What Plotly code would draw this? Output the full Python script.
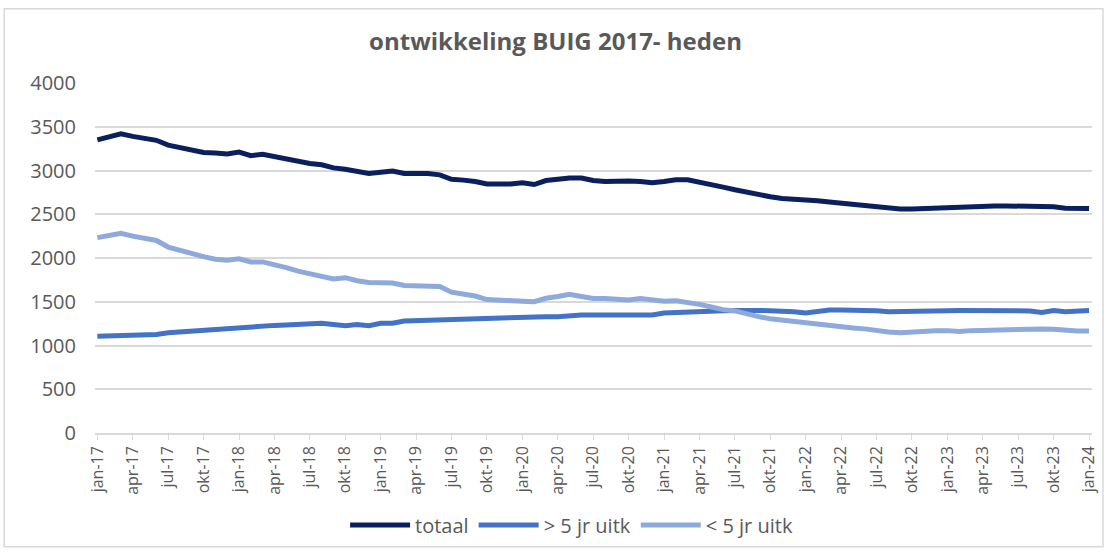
import plotly.graph_objs as go

# month labels jan-17 .. jan-24
months = ['jan', 'feb', 'mrt', 'apr', 'mei', 'jun', 'jul', 'aug', 'sep', 'okt', 'nov', 'dec']
periods = [f'{m}-{y}' for y in range(17, 24) for m in months] + ['jan-24']
tick_labels = periods[::3]

totaal = [3350, 3390, 3420, 3390, 3370, 3345, 3290, 3260, 3240, 3205, 3200, 3190,
          3210, 3170, 3185, 3160, 3135, 3100, 3080, 3065, 3030, 3015, 2995, 2965,
          2980, 2995, 2965, 2970, 2965, 2950, 2900, 2890, 2875, 2845, 2845, 2845,
          2860, 2840, 2885, 2905, 2915, 2915, 2885, 2875, 2880, 2880, 2875, 2860,
          2875, 2895, 2895, 2870, 2840, 2810, 2780, 2750, 2730, 2700, 2680, 2675,
          2670, 2655, 2640, 2625, 2615, 2600, 2580, 2565, 2560, 2560, 2565, 2580,
          2585, 2590, 2595, 2595, 2595, 2595, 2595, 2595, 2595, 2585, 2570, 2565,
          2565]

meer_5jr = [1105, 1108, 1115, 1115, 1118, 1125, 1145, 1155, 1160, 1175, 1190, 1200,
            1208, 1215, 1225, 1230, 1235, 1240, 1250, 1255, 1240, 1225, 1240, 1225,
            1255, 1255, 1280, 1285, 1285, 1285, 1295, 1303, 1305, 1305, 1315, 1328,
            1330, 1330, 1330, 1330, 1345, 1348, 1348, 1348, 1348, 1348, 1348, 1350,
            1372, 1380, 1385, 1395, 1398, 1398, 1400, 1405, 1400, 1398, 1398, 1385,
            1372, 1395, 1405, 1405, 1405, 1405, 1398, 1385, 1390, 1392, 1395, 1398,
            1398, 1400, 1400, 1400, 1400, 1400, 1400, 1395, 1378, 1400, 1385, 1397,
            1400]

minder_5jr = [2233, 2255, 2282, 2250, 2230, 2200, 2125, 2085, 2050, 2015, 1985, 1975,
              1990, 1955, 1955, 1925, 1890, 1850, 1820, 1795, 1760, 1775, 1740, 1720,
              1720, 1715, 1685, 1680, 1680, 1675, 1610, 1590, 1565, 1525, 1515, 1510,
              1505, 1500, 1540, 1560, 1585, 1560, 1537, 1537, 1535, 1520, 1537, 1525,
              1505, 1510, 1495, 1470, 1440, 1410, 1395, 1360, 1330, 1305, 1290, 1265,
              1260, 1245, 1225, 1210, 1200, 1190, 1170, 1155, 1145, 1155, 1160, 1170,
              1170, 1160, 1170, 1175, 1175, 1180, 1190, 1190, 1190, 1185, 1170, 1165,
              1165]

series = [('totaal', totaal, '#0B1F5E'),
          ('> 5 jr uitk', meer_5jr, '#4472C4'),
          ('< 5 jr uitk', minder_5jr, '#8EA9DB')]

fig = go.Figure()
for name, vals, color in series:
    fig.add_trace(go.Scatter(x=periods, y=vals, name=name, mode='lines',
                             line=dict(color=color, width=5)))

grey = '#595959'
fig.update_layout(
    width=1111, height=557,
    paper_bgcolor='white', plot_bgcolor='white',
    margin=dict(l=95, r=17, t=83, b=120),
    font=dict(family='Open Sans', color=grey),
    title=dict(text='<b>ontwikkeling BUIG 2017- heden</b>', x=0.5, xanchor='center',
               y=1 - 42 / 557, yref='container', yanchor='middle',
               font=dict(size=24, color=grey, family='Open Sans')),
    legend=dict(orientation='h', x=0.478, xanchor='center', y=-0.263, yanchor='middle',
                font=dict(size=20, color=grey), itemwidth=60, tracegroupgap=0),
    showlegend=True,
)
fig.update_xaxes(type='category', categoryorder='array', categoryarray=periods,
                 tickvals=tick_labels, ticktext=tick_labels, tickangle=-90,
                 range=[-0.2, 84.25], showgrid=False, showline=True,
                 linecolor='#D9D9D9', linewidth=1.5, ticks='outside', ticklen=5,
                 tickcolor='#D9D9D9', tickfont=dict(size=16, color=grey))
fig.update_yaxes(range=[0, 4000], dtick=500, showgrid=True, gridcolor='#D9D9D9',
                 gridwidth=1.5, zeroline=False, showline=False,
                 tickfont=dict(size=20, color=grey), ticklabelstandoff=18)
# thin frame around the chart area
fig.add_shape(type='rect', xref='paper', yref='paper', x0=-91 / 999, x1=1 + 11 / 999,
              y0=-115 / 354, y1=1 + 75 / 354, line=dict(color='#D9D9D9', width=1.5))
fig.write_html('out.html', config={'displayModeBar': False},
               post_script="document.body.style.margin='0';")
